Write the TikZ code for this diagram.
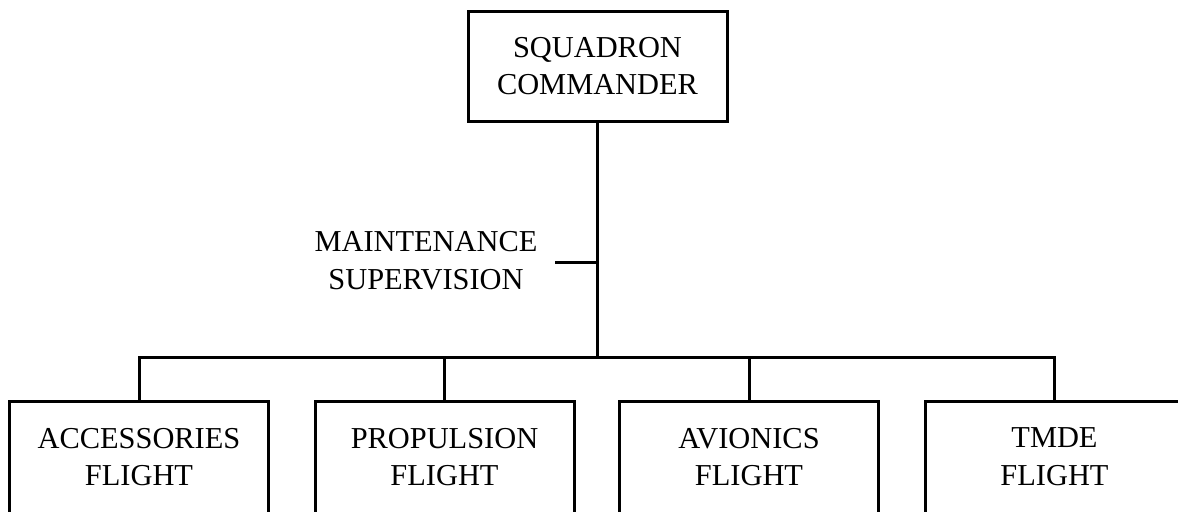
\documentclass[tikz,border=0pt]{standalone}
\usepackage{fontspec}
\setmainfont{Liberation Serif}
\usepackage{tikz}
\usetikzlibrary{positioning}

\begin{document}
\begin{tikzpicture}[x=0.5pt,y=-0.5pt,
  unitbox/.style={draw, line width=1.5pt, inner sep=0pt, align=center,
    minimum width=129.5pt, minimum height=55pt,
    font=\fontsize{15.2}{18.9}\selectfont},
  flightbox/.style={unitbox, minimum height=56pt},
  link/.style={line width=1.5pt}]
\path[use as bounding box] (0,0) rectangle (1178,511);
\clip (0,0) rectangle (1178,511);
\node[unitbox] (cmdr) at (597.5,66) {SQUADRON\\COMMANDER};
\node[font=\fontsize{15.2}{18.9}\selectfont, align=center] (maint) at (426,260.5) {MAINTENANCE\\SUPERVISION};
\node[flightbox] (acc)  at (139,457)    {ACCESSORIES\\FLIGHT};
\node[flightbox] (prop) at (444.5,457)  {PROPULSION\\FLIGHT};
\node[flightbox] (avio) at (749,457)    {AVIONICS\\FLIGHT};
\node[flightbox] (tmde) at (1054.5,457) {TMDE\\FLIGHT};
\coordinate (bus) at (597.5,357);
\coordinate (tick) at (555,262);
\draw[link] (cmdr.south) -- (bus);
\draw[link] (tick) -- (tick -| cmdr.south);
\draw[link] (acc.north) |- (bus);
\draw[link] (prop.north) |- (bus);
\draw[link] (avio.north) |- (bus);
\draw[link] (tmde.north) |- (bus);
\end{tikzpicture}
\end{document}
